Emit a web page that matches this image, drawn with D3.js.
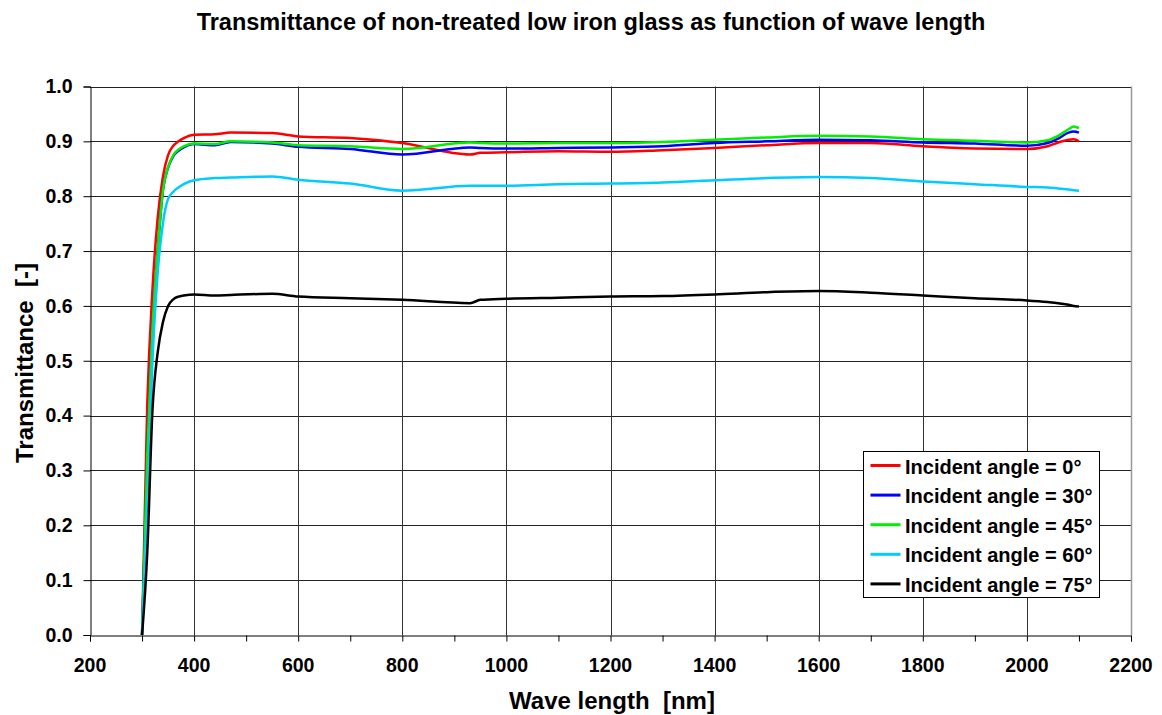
<!DOCTYPE html>
<html>
<head>
<meta charset="utf-8">
<script src="https://cdn.jsdelivr.net/npm/d3@7"></script>
<style>
    body { margin: 0; background: #fff; }
    text { font-family: "Liberation Sans", Arial, sans-serif; font-weight: bold; }
</style>
</head>
<body>
<svg id="chart"></svg>
<script>
// wave length grid (nm)
let waveLength = [300, 310, 320, 330, 340, 350, 360, 370, 380, 400, 440, 470, 550, 600, 700, 800,
    930, 950, 1000, 1100, 1200, 1300, 1400, 1500, 1600, 1700, 1800, 1900, 2000, 2040, 2060, 2080, 2090, 2100];

let angle0 = [0, 0.42, 0.63, 0.76, 0.835, 0.875, 0.892, 0.900, 0.906, 0.912, 0.913, 0.916, 0.915, 0.909, 0.906, 0.897,
    0.876, 0.879, 0.880, 0.882, 0.881, 0.884, 0.888, 0.893, 0.897, 0.897, 0.891, 0.887, 0.886, 0.891, 0.898, 0.903, 0.904, 0.900];
let angle30 = [0, 0.33, 0.56, 0.70, 0.81, 0.852, 0.873, 0.883, 0.889, 0.895, 0.893, 0.899, 0.896, 0.890, 0.886, 0.876,
    0.889, 0.888, 0.887, 0.888, 0.889, 0.891, 0.897, 0.900, 0.903, 0.902, 0.898, 0.896, 0.892, 0.897, 0.905, 0.916, 0.918, 0.916];
let angle45 = [0, 0.33, 0.56, 0.70, 0.81, 0.853, 0.875, 0.885, 0.891, 0.896, 0.895, 0.900, 0.898, 0.893, 0.891, 0.886,
    0.898, 0.897, 0.896, 0.897, 0.897, 0.899, 0.903, 0.907, 0.910, 0.909, 0.904, 0.901, 0.898, 0.902, 0.910, 0.922, 0.927, 0.924];
let angle60 = [0, 0.23, 0.50, 0.66, 0.75, 0.795, 0.808, 0.816, 0.822, 0.829, 0.833, 0.834, 0.836, 0.830, 0.823, 0.810,
    0.819, 0.819, 0.819, 0.822, 0.823, 0.825, 0.829, 0.833, 0.835, 0.833, 0.827, 0.822, 0.817, 0.816, 0.814, 0.812, 0.811, 0.810];
let angle75 = [0, 0.15, 0.41, 0.515, 0.57, 0.60, 0.612, 0.617, 0.619, 0.621, 0.619, 0.620, 0.622, 0.617, 0.614, 0.611,
    0.605, 0.611, 0.613, 0.615, 0.617, 0.618, 0.621, 0.625, 0.627, 0.624, 0.619, 0.614, 0.610, 0.607, 0.605, 0.602, 0.600, 0.599];

let seriesNames = ['Incident angle = 0°', 'Incident angle = 30°', 'Incident angle = 45°',
    'Incident angle = 60°', 'Incident angle = 75°'];
let seriesValues = [angle0, angle30, angle45, angle60, angle75];
let seriesColors = ['#ff0000', '#0000ff', '#00f000', '#00ccff', '#000000'];

let xTicks = d3.range(200, 2201, 200);
let xMinorTicks = d3.range(200, 2201, 100);
let yTicks = d3.range(0, 10.5, 1).map(v => v / 10);

let svg = d3.select('#chart')
    .attr('width', 1162).attr('height', 715);

let scX = d3.scaleLinear()
    .domain([200, 2200])
    .range([90, 1131]);
let scY = d3.scaleLinear()
    .domain([0, 1])
    .range([635, 86.5]);

// gridlines
svg.append('g').selectAll('line')
    .data(yTicks.slice(1)).enter().append('line')
    .attr('x1', scX(200)).attr('x2', scX(2200))
    .attr('y1', d => Math.round(scY(d)) + 0.5).attr('y2', d => Math.round(scY(d)) + 0.5)
    .attr('stroke', '#222').attr('stroke-width', 1);

svg.append('g').selectAll('line')
    .data(xTicks.slice(1, -1)).enter().append('line')
    .attr('x1', d => Math.round(scX(d)) + 0.5).attr('x2', d => Math.round(scX(d)) + 0.5)
    .attr('y1', scY(0)).attr('y2', scY(1))
    .attr('stroke', '#333').attr('stroke-width', 1);

// right border
svg.append('line')
    .attr('x1', Math.round(scX(2200)) + 0.5).attr('x2', Math.round(scX(2200)) + 0.5)
    .attr('y1', scY(0)).attr('y2', scY(1))
    .attr('stroke', '#999').attr('stroke-width', 1.5);

// axes
let xAxis = d3.axisBottom(scX).tickValues(xMinorTicks).tickSize(6).tickFormat('');
svg.append('g')
    .attr('transform', `translate(0,${Math.round(scY(0)) + 0.5})`)
    .call(xAxis)
    .call(g => g.select('.domain').attr('stroke', '#000'));

svg.append('g').selectAll('text')
    .data(xTicks).enter().append('text')
    .attr('x', d => scX(d)).attr('y', 672)
    .attr('text-anchor', 'middle')
    .attr('font-size', 19.5)
    .text(d => d);

let yAxis = d3.axisLeft(scY).tickValues(yTicks).tickSize(7).tickFormat(d3.format('.1f')).tickPadding(11);
svg.append('g')
    .attr('transform', `translate(${Math.round(scX(200)) + 0.5},0)`)
    .call(yAxis)
    .call(g => g.select('.domain').attr('stroke', '#000'))
    .call(g => g.selectAll('text')
        .attr('font-size', 19.5)
        .attr('font-family', '"Liberation Sans", Arial, sans-serif')
        .attr('font-weight', 'bold')
        .attr('fill', '#000'));

// series
let line = d3.line()
    .x((d, i) => scX(waveLength[i]))
    .y(d => scY(d))
    .curve(d3.curveMonotoneX);

svg.append('g').selectAll('path')
    .data(seriesValues).enter().append('path')
    .attr('d', d => line(d))
    .attr('fill', 'none')
    .attr('stroke', (d, i) => seriesColors[i])
    .attr('stroke-width', 2.5)
    .attr('stroke-linejoin', 'round');

// title and axis labels
svg.append('text')
    .attr('x', 591).attr('y', 30)
    .attr('text-anchor', 'middle')
    .attr('font-size', 23.5)
    .text('Transmittance of non-treated low iron glass as function of wave length');

svg.append('text')
    .attr('x', 612).attr('y', 709)
    .attr('text-anchor', 'middle')
    .attr('font-size', 24)
    .attr('xml:space', 'preserve')
    .style('white-space', 'pre')
    .text('Wave length  [nm]');

svg.append('text')
    .attr('transform', 'translate(33,363) rotate(-90)')
    .attr('text-anchor', 'middle')
    .attr('font-size', 24)
    .style('white-space', 'pre')
    .text('Transmittance  [-]');

// legend
let legend = svg.append('g').attr('transform', 'translate(863.5,451.5)');
legend.append('rect')
    .attr('width', 236).attr('height', 146)
    .attr('fill', '#fff').attr('stroke', '#000').attr('stroke-width', 1);

let rows = legend.selectAll('g')
    .data(seriesNames).enter().append('g')
    .attr('transform', (d, i) => `translate(0,${14 + i * 29.6})`);
rows.append('line')
    .attr('x1', 7).attr('x2', 37)
    .attr('stroke', (d, i) => seriesColors[i])
    .attr('stroke-width', 3);
rows.append('text')
    .attr('x', 41.5).attr('y', 8)
    .attr('font-size', 20)
    .text(d => d);
</script>
</body>
</html>
